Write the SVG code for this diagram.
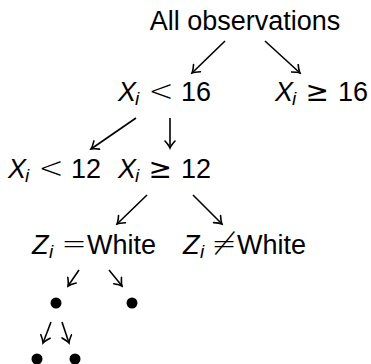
<svg xmlns="http://www.w3.org/2000/svg" width="371" height="364" viewBox="0 0 371 364">
<style>
.t{font-family:"Liberation Sans",Arial,sans-serif;font-size:27px;fill:#000}
.m{font-style:italic}
.s{font-style:italic;font-size:19px}
.r{font-family:"DejaVu Sans",sans-serif;font-weight:200;font-size:30px}
.g{font-family:"DejaVu Sans",sans-serif;font-size:28px}
.c line{stroke:#000;stroke-width:1.6;fill:none;marker-end:url(#ah)}
.dot{fill:#000}
</style>
<defs>
<marker id="ah" viewBox="-8 -6 10 12" markerWidth="10" markerHeight="12" refX="0" refY="0" orient="auto" markerUnits="userSpaceOnUse">
<path d="M-7,-5 Q-2.5,-1 0,0 Q-2.5,1 -7,5" fill="none" stroke="#000" stroke-width="1.6" stroke-linecap="round"/>
</marker>
</defs>
<g id="connectors" class="c">
<line x1="225" y1="41" x2="192" y2="73"/>
<line x1="265" y1="41" x2="300" y2="73"/>
<line x1="136" y1="118" x2="91" y2="149"/>
<line x1="170" y1="118" x2="170" y2="148"/>
<line x1="147" y1="195" x2="117" y2="224"/>
<line x1="193" y1="195" x2="222" y2="224"/>
<line x1="79" y1="270" x2="68" y2="286"/>
<line x1="109" y1="270" x2="122" y2="286"/>
<line x1="51" y1="322" x2="43" y2="343"/>
<line x1="62" y1="322" x2="69" y2="343"/>
</g>
<g id="root"><text class="t" x="245" y="30" text-anchor="middle">All observations</text></g>
<g id="lt16"><text class="t" y="101"><tspan class="m" x="118">X</tspan><tspan class="s" x="135" dy="4">i</tspan><tspan class="r" x="148.5" dy="-4">&lt;</tspan><tspan x="181">16</tspan></text></g>
<g id="ge16"><text class="t" y="101"><tspan class="m" x="275">X</tspan><tspan class="s" x="292" dy="4">i</tspan><tspan class="g" x="305.5" dy="-4">≥</tspan><tspan x="338">16</tspan></text></g>
<g id="lt12"><text class="t" y="178"><tspan class="m" x="8">X</tspan><tspan class="s" x="25" dy="4">i</tspan><tspan class="r" x="38.5" dy="-4">&lt;</tspan><tspan x="71">12</tspan></text></g>
<g id="ge12"><text class="t" y="178"><tspan class="m" x="118">X</tspan><tspan class="s" x="135" dy="4">i</tspan><tspan class="g" x="148.5" dy="-4">≥</tspan><tspan x="181">12</tspan></text></g>
<g id="zwhite"><text class="t" y="254"><tspan class="m" x="32">Z</tspan><tspan class="s" x="49" dy="4">i</tspan><tspan class="r" x="61.5" dy="-4">=</tspan><tspan x="87">White</tspan></text></g>
<g id="znotwhite"><text class="t" y="254"><tspan class="m" x="183">Z</tspan><tspan class="s" x="200" dy="4">i</tspan><tspan class="r" x="211.5" dy="-4">≠</tspan><tspan x="237">White</tspan></text></g>
<g id="n1"><circle class="dot" cx="56" cy="303" r="5.5"/></g>
<g id="n2"><circle class="dot" cx="132" cy="303" r="5.5"/></g>
<g id="n3"><circle class="dot" cx="37" cy="359" r="5.5"/></g>
<g id="n4"><circle class="dot" cx="75" cy="359" r="5.5"/></g>
</svg>
